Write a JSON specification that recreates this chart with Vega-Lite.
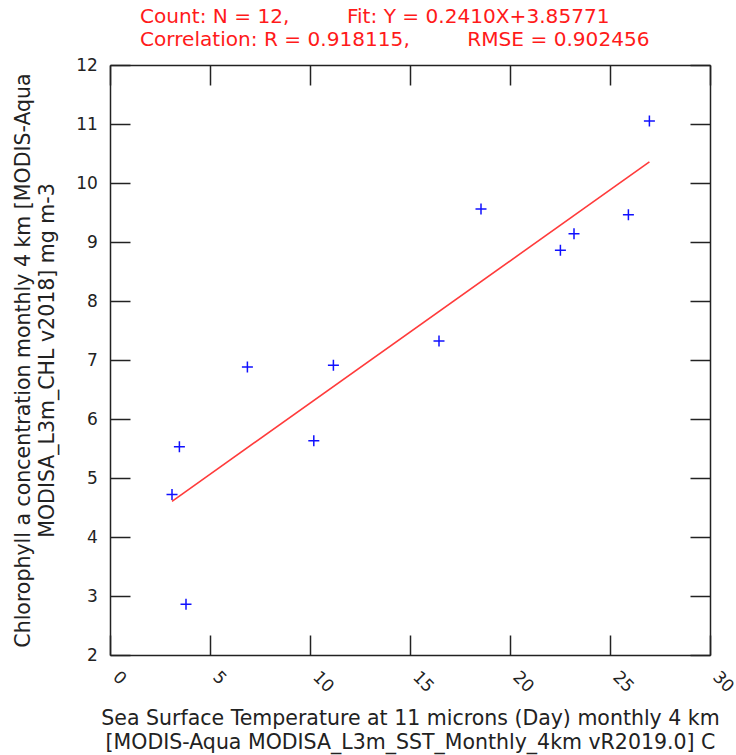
{
  "$schema": "https://vega.github.io/schema/vega-lite/v6.json",
  "width": 600,
  "height": 590,
  "autosize": {"type": "none"},
  "padding": {"left": 110, "top": 65, "right": 26, "bottom": 100},
  "background": "white",
  "datasets": {
    "points": [
      {"sst": 3.10, "chl": 4.72},
      {"sst": 3.47, "chl": 5.53},
      {"sst": 3.80, "chl": 2.86},
      {"sst": 6.87, "chl": 6.88},
      {"sst": 10.19, "chl": 5.63},
      {"sst": 11.17, "chl": 6.91},
      {"sst": 16.45, "chl": 7.32},
      {"sst": 18.55, "chl": 9.56},
      {"sst": 22.52, "chl": 8.86},
      {"sst": 23.20, "chl": 9.14},
      {"sst": 25.92, "chl": 9.46},
      {"sst": 26.97, "chl": 11.05}
    ],
    "fit": [
      {"sst": 3.10, "chl": 4.6048},
      {"sst": 26.97, "chl": 10.3575}
    ]
  },
  "title": {
    "text": [
      "Count: N = 12,\u00a0\u00a0\u00a0\u00a0\u00a0\u00a0\u00a0\u00a0 Fit: Y = 0.2410X+3.85771",
      "Correlation: R = 0.918115,\u00a0\u00a0\u00a0\u00a0\u00a0\u00a0\u00a0\u00a0 RMSE = 0.902456"
    ],
    "anchor": "start",
    "frame": "group",
    "align": "left",
    "dx": 30,
    "dy": 27.5,
    "baseline": "bottom",
    "offset": 13,
    "lineHeight": 23.5,
    "font": "DejaVu Sans",
    "fontSize": 20.1,
    "fontWeight": "normal",
    "color": "#ff1a1a"
  },
  "config": {
    "view": {"stroke": null},
    "axis": {
      "grid": false,
      "domainColor": "#222222",
      "domainWidth": 1.5,
      "tickColor": "#222222",
      "tickWidth": 1.5,
      "tickSize": -20,
      "labelFont": "DejaVu Sans",
      "labelFontSize": 17,
      "labelColor": "#222222",
      "titleFont": "DejaVu Sans",
      "titleFontSize": 20.5,
      "titleFontWeight": "normal",
      "titleColor": "#222222"
    }
  },
  "resolve": {"axis": {"x": "independent", "y": "independent"}},
  "layer": [
    {
      "data": {"name": "points"},
      "mark": {
        "type": "point",
        "shape": "M-1,0L1,0M0,-1L0,1",
        "size": 121,
        "stroke": "#1010ff",
        "strokeWidth": 1.5,
        "filled": false,
        "opacity": 1
      },
      "encoding": {
        "x": {
          "field": "sst",
          "type": "quantitative",
          "scale": {"domain": [0, 30], "nice": false, "zero": false},
          "axis": {
            "orient": "bottom",
            "values": [0, 5, 10, 15, 20, 25, 30],
            "labelAngle": 45,
            "labelAlign": "left",
            "labelBaseline": "middle",
            "labelPadding": 39,
            "labelOffset": 5,
            "labelFlush": false,
            "labelOverlap": false,
            "title": [
              "Sea Surface Temperature at 11 microns (Day) monthly 4 km",
              "[MODIS-Aqua MODISA_L3m_SST_Monthly_4km vR2019.0] C"
            ],
            "titleBaseline": "alphabetic",
            "titleY": 69,
            "titleLineHeight": 24
          }
        },
        "y": {
          "field": "chl",
          "type": "quantitative",
          "scale": {"domain": [2, 12], "nice": false, "zero": false},
          "axis": {
            "orient": "left",
            "values": [2, 3, 4, 5, 6, 7, 8, 9, 10, 11, 12],
            "labelPadding": 32.7,
            "labelFlush": false,
            "labelOverlap": false,
            "title": [
              "Chlorophyll a concentration monthly 4 km [MODIS-Aqua",
              "MODISA_L3m_CHL v2018] mg m-3"
            ],
            "titleAngle": -90,
            "titleAlign": "center",
            "titleBaseline": "alphabetic",
            "titleX": -81,
            "titleY": 295,
            "titleLineHeight": 24
          }
        }
      }
    },
    {
      "data": {"name": "fit"},
      "mark": {"type": "line", "color": "#ff3b3b", "strokeWidth": 1.6},
      "encoding": {
        "x": {
          "field": "sst",
          "type": "quantitative",
          "scale": {"domain": [0, 30], "nice": false, "zero": false},
          "axis": {
            "orient": "top",
            "values": [0, 5, 10, 15, 20, 25, 30],
            "labels": false,
            "title": null
          }
        },
        "y": {
          "field": "chl",
          "type": "quantitative",
          "scale": {"domain": [2, 12], "nice": false, "zero": false},
          "axis": {
            "orient": "right",
            "values": [2, 3, 4, 5, 6, 7, 8, 9, 10, 11, 12],
            "labels": false,
            "title": null
          }
        }
      }
    }
  ]
}
